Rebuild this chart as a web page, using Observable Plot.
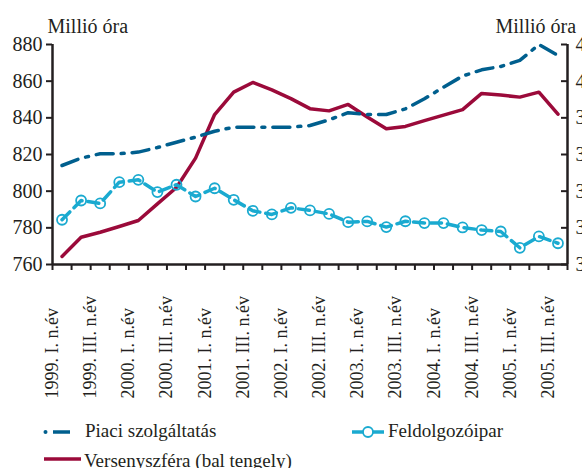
<!DOCTYPE html>
<html><head><meta charset="utf-8">
<script src="https://cdn.jsdelivr.net/npm/d3@7"></script>
<script src="https://cdn.jsdelivr.net/npm/@observablehq/plot@0.6"></script>
<style>
body{margin:0;background:#fff;font-family:"Liberation Serif",serif;}
#wrap{width:582px;height:468px;overflow:hidden;position:relative;background:#fff;}
#legend{position:absolute;left:0;top:410px;}
</style></head><body><div id="wrap"></div>
<script>
const quarters = [
  "1999. I. n.év","1999. II. n.év","1999. III. n.év","1999. IV. n.év",
  "2000. I. n.év","2000. II. n.év","2000. III. n.év","2000. IV. n.év",
  "2001. I. n.év","2001. II. n.év","2001. III. n.év","2001. IV. n.év",
  "2002. I. n.év","2002. II. n.év","2002. III. n.év","2002. IV. n.év",
  "2003. I. n.év","2003. II. n.év","2003. III. n.év","2003. IV. n.év",
  "2004. I. n.év","2004. II. n.év","2004. III. n.év","2004. IV. n.év",
  "2005. I. n.év","2005. II. n.év","2005. III. n.év"
];
// Versenyszféra (left axis)
const versenyszfera = [764.4, 774.9, 777.6, 780.7, 784.0, 793.1, 802, 818, 841.8, 854.0,
  859.3, 855.2, 850.5, 845, 843.8, 847.3, 840.5, 834, 835.3, 838.5,
  841.5, 844.5, 853.3, 852.4, 851.3, 854, 842];
// Piaci szolgáltatás (right axis)
const piaci = [354, 358, 360.4, 360.4, 361.3, 363.8, 366.7, 369.5, 372.7, 374.9,
  374.9, 374.9, 374.9, 375.8, 378.9, 382.8, 381.8, 381.8, 384.9, 390.4,
  396.7, 402.8, 406.2, 408, 411.3, 420, 414];
// Feldolgozóipar (right axis)
const feldolgozo = [324.4, 334.9, 333.3, 344.9, 346.2, 339.5, 343.5, 337.1, 341.6, 335.3,
  329.3, 327.3, 330.9, 329.5, 327.6, 323.1, 323.5, 320.4, 323.6, 322.6,
  322.6, 320.2, 318.8, 318, 309.1, 315.3, 311.6];
const leftTicks = [760, 780, 800, 820, 840, 860, 880];
const rightTicks = [300, 320, 340, 360, 380, 400, 420];
const unitLabel = "Millió óra";
const seriesNames = ["Piaci szolgáltatás", "Feldolgozóipar", "Versenyszféra (bal tengely)"];

const RED = "#9b0a3a", DARK = "#005f8e", LIGHT = "#1aaad0", INK = "#231f20";
const toLeft = v => leftTicks[0] + (v - rightTicks[0]) * (leftTicks[6] - leftTicks[0]) / (rightTicks[6] - rightTicks[0]);

const rows = quarters.map((q, i) => ({i, q, vs: versenyszfera[i], pi: toLeft(piaci[i]), fe: toLeft(feldolgozo[i])}));
const boundaries = d3.range(-0.5, quarters.length, 1);
const labelIdx = quarters.map((q, i) => i).filter(i => i % 2 === 0);

const W = 582, H = 410, mL = 52, mR = 15, mT = 44, mB = 146;
const FONT = '"Liberation Serif", "Times New Roman", serif';

const chart = Plot.plot({
  width: W, height: H, marginLeft: mL, marginRight: mR, marginTop: mT, marginBottom: mB,
  style: {fontFamily: FONT, background: "white", color: INK},
  x: {type: "linear", domain: [-0.5, quarters.length - 0.5], label: null},
  y: {domain: [leftTicks[0], leftTicks[6]], label: null},
  marks: [
    Plot.axisY({ticks: leftTicks, tickSize: 6, tickPadding: 4, fontSize: 20, tickFormat: d => String(d), strokeWidth: 2, label: null}),
    Plot.axisY({anchor: "right", ticks: leftTicks, tickSize: 0, tickPadding: 8, fontSize: 20, textAnchor: "start",
      tickFormat: d => String(rightTicks[leftTicks.indexOf(d)]), label: null}),
    Plot.tickY(leftTicks, {y: d => d, insetLeft: (W - mL - mR) - 6, strokeWidth: 2, stroke: INK}),
    Plot.axisX({ticks: boundaries, tickSize: 6, tickFormat: () => "", strokeWidth: 2, label: null}),
    Plot.text(labelIdx, {x: d => d, text: d => quarters[d], frameAnchor: "bottom", dy: 134, dx: -4,
      rotate: -90, textAnchor: "start", fontSize: 18, fill: INK}),
    Plot.ruleX([-0.5, quarters.length - 0.5], {strokeWidth: 2.5, stroke: INK}),
    Plot.ruleY([leftTicks[0]], {strokeWidth: 2.5, stroke: INK}),
    Plot.line(rows, {x: "i", y: "vs", stroke: RED, strokeWidth: 3.5}),
    Plot.line(rows, {x: "i", y: "pi", stroke: DARK, strokeWidth: 3.5, strokeDasharray: "17,8,3,8"}),
    Plot.line(rows, {x: "i", y: "fe", stroke: LIGHT, strokeWidth: 3.5, strokeDasharray: "11,6"}),
    Plot.dot(rows, {x: "i", y: "fe", r: 5, stroke: LIGHT, strokeWidth: 1.8, fill: "none"}),
    Plot.text([unitLabel], {frameAnchor: "top-left", dx: -5, dy: -12, lineAnchor: "bottom", textAnchor: "start", fontSize: 20, fill: INK}),
    Plot.text([unitLabel], {frameAnchor: "top-right", dx: -72, dy: -12, lineAnchor: "bottom", textAnchor: "start", fontSize: 20, fill: INK})
  ]
});
const wrap = document.getElementById("wrap");
wrap.appendChild(chart);

const legend = `<svg id="legend" width="582" height="58" xmlns="http://www.w3.org/2000/svg" style="font-family:${FONT.replace(/"/g, "'")}">
  <circle cx="45.5" cy="22" r="2" fill="${DARK}"/>
  <line x1="53" y1="22" x2="70" y2="22" stroke="${DARK}" stroke-width="3.5"/>
  <text x="85" y="27" font-size="19" fill="${INK}">${seriesNames[0]}</text>
  <line x1="352" y1="22" x2="384" y2="22" stroke="${LIGHT}" stroke-width="3.5"/>
  <circle cx="368" cy="22" r="5" fill="white" stroke="${LIGHT}" stroke-width="1.8"/>
  <text x="388" y="27" font-size="19" fill="${INK}">${seriesNames[1]}</text>
  <line x1="44" y1="49" x2="81" y2="49" stroke="${RED}" stroke-width="3.5"/>
  <text x="84" y="57" font-size="19" fill="${INK}">${seriesNames[2]}</text>
</svg>`;
wrap.insertAdjacentHTML("beforeend", legend);
</script></body></html>
